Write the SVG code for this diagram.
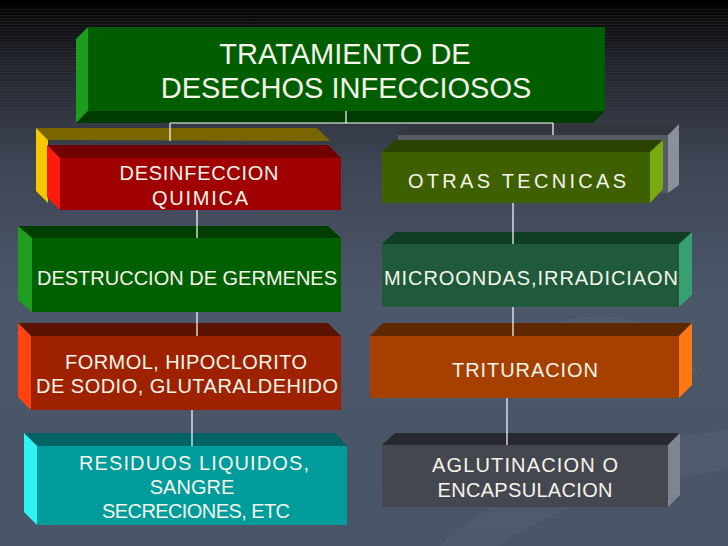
<svg xmlns="http://www.w3.org/2000/svg" width="728" height="546" viewBox="0 0 728 546">
<defs>
<linearGradient id="bg" x1="0" y1="0" x2="0" y2="1">
<stop offset="0" stop-color="#000000"/>
<stop offset="0.03" stop-color="#0a0b0d"/>
<stop offset="0.12" stop-color="#22252c"/>
<stop offset="0.3" stop-color="#3e4554"/>
<stop offset="0.55" stop-color="#4d576a"/>
<stop offset="1" stop-color="#4a5467"/>
</linearGradient>
<pattern id="stripes" width="4" height="3" patternUnits="userSpaceOnUse">
<rect width="4" height="1" fill="#ffffff" fill-opacity="0.07"/>
</pattern>
<linearGradient id="fade" x1="0" y1="0" x2="0" y2="1">
<stop offset="0" stop-color="#fff" stop-opacity="1"/>
<stop offset="1" stop-color="#fff" stop-opacity="0"/>
</linearGradient>
<mask id="stripeMask"><rect x="0" y="8" width="728" height="150" fill="url(#fade)"/></mask>
<style>
text{font-family:"Liberation Sans",Arial,sans-serif;fill:#f5f5ea;text-anchor:middle}
.t{font-size:20px}
.title{font-size:29px}
.conn line{stroke:#ffffff;stroke-width:1.2}
</style>
</defs>
<rect width="728" height="546" fill="url(#bg)"/>
<rect x="0" y="8" width="728" height="150" fill="url(#stripes)" mask="url(#stripeMask)"/>
<path d="M440 546 C520 470 640 440 728 430 L728 470 C650 480 560 500 500 546 Z" fill="#ffffff" fill-opacity="0.03"/>
<path d="M540 330 C600 300 680 320 700 380 C680 350 610 330 540 330 Z" fill="#ffffff" fill-opacity="0.03"/>

<g id="n-tratamiento">
<polygon points="88,27 76,39 76,123 88,111" fill="#1c9e1c"/>
<polygon points="88,111 605,111 593,123 76,123" fill="#003c00"/>
<rect x="88" y="27" width="517" height="84" fill="#005e00"/>
<text class="title" x="345" y="64">TRATAMIENTO DE</text>
<text class="title" x="346" y="98">DESECHOS INFECCIOSOS</text>
</g>

<g id="n-desinfeccion">
<polygon points="36,128 317,128 330,141 48,140" fill="#7a6600"/>
<polygon points="36,128 48,140 48,203 36,191" fill="#f5c800"/>
<polygon points="47,145 328,145 341,158 60,158" fill="#720000"/>
<polygon points="47,145 60,158 60,210 47,197" fill="#ff1a10"/>
<rect x="60" y="158" width="281" height="52" fill="#a00000"/>
<text class="t" x="199" y="180" textLength="159" lengthAdjust="spacing">DESINFECCION</text>
<text class="t" x="200" y="205" textLength="96" lengthAdjust="spacing">QUIMICA</text>
</g>

<g id="n-otras">
<polygon points="409,124 679,124 668,135 398,135" fill="#33363d"/>
<rect x="398" y="135" width="270" height="58" fill="#565a63"/>
<polygon points="668,135 679,124 679,185 668,193" fill="#8a909a"/>
<polygon points="382,152 650,152 663,140 395,140" fill="#2a4400"/>
<polygon points="650,152 663,140 663,189 650,203" fill="#78aa10"/>
<rect x="382" y="152" width="268" height="51" fill="#3f6000"/>
<text class="t" x="517" y="188" textLength="218" lengthAdjust="spacing">OTRAS TECNICAS</text>
</g>

<g id="n-destruccion">
<polygon points="18,226 328,226 341,238 32,238" fill="#003e00"/>
<polygon points="18,226 32,238 32,312 18,300" fill="#1e9e1e"/>
<rect x="32" y="238" width="309" height="74" fill="#006000"/>
<text class="t" x="187" y="285" textLength="300" lengthAdjust="spacing">DESTRUCCION DE GERMENES</text>
</g>

<g id="n-microondas">
<polygon points="382,244 679,244 692,232 395,232" fill="#0f3d26"/>
<polygon points="679,244 692,232 692,295 679,307" fill="#38a070"/>
<rect x="382" y="244" width="297" height="63" fill="#1e5a3b"/>
<text class="t" x="531" y="285" textLength="294" lengthAdjust="spacing">MICROONDAS,IRRADICIAON</text>
</g>

<g id="n-formol">
<polygon points="18,323 328,323 341,336 31,336" fill="#5c1400"/>
<polygon points="18,323 31,336 31,410 18,397" fill="#ff4412"/>
<rect x="31" y="336" width="310" height="74" fill="#9e2200"/>
<text class="t" x="186" y="369" textLength="242" lengthAdjust="spacing">FORMOL, HIPOCLORITO</text>
<text class="t" x="187" y="393" textLength="302" lengthAdjust="spacing">DE SODIO, GLUTARALDEHIDO</text>
</g>

<g id="n-trituracion">
<polygon points="370,336 679,336 692,323 383,323" fill="#602800"/>
<polygon points="679,336 692,323 692,385 679,398" fill="#ff7812"/>
<rect x="370" y="336" width="309" height="62" fill="#a54000"/>
<text class="t" x="525" y="377" textLength="146" lengthAdjust="spacing">TRITURACION</text>
</g>

<g id="n-residuos">
<polygon points="24,433 335,433 347,446 37,446" fill="#006464"/>
<polygon points="24,433 37,446 37,525 24,512" fill="#30f4f4"/>
<rect x="37" y="446" width="310" height="79" fill="#009c9c"/>
<text class="t" x="194" y="470" textLength="230" lengthAdjust="spacing">RESIDUOS LIQUIDOS,</text>
<text class="t" x="192" y="494">SANGRE</text>
<text class="t" x="196" y="518" textLength="188" lengthAdjust="spacing">SECRECIONES, ETC</text>
</g>

<g id="n-aglutinacion">
<polygon points="382,445 668,445 680,433 395,433" fill="#28292e"/>
<polygon points="668,445 680,433 680,495 668,507" fill="#7e8490"/>
<rect x="382" y="445" width="286" height="62" fill="#44474f"/>
<text class="t" x="525" y="472" textLength="186" lengthAdjust="spacing">AGLUTINACION O</text>
<text class="t" x="525" y="497" textLength="175" lengthAdjust="spacing">ENCAPSULACION</text>
</g>

<g id="connectors" class="conn">
<line x1="346" y1="111" x2="346" y2="123"/>
<line x1="170" y1="123" x2="553" y2="123"/>
<line x1="170" y1="123" x2="170" y2="141"/>
<line x1="553" y1="123" x2="553" y2="135"/>
<line x1="197" y1="210" x2="197" y2="238"/>
<line x1="197" y1="312" x2="197" y2="336"/>
<line x1="192" y1="410" x2="192" y2="446"/>
<line x1="513" y1="203" x2="513" y2="244"/>
<line x1="513" y1="307" x2="513" y2="336"/>
<line x1="507" y1="398" x2="507" y2="445"/>
</g>
</svg>
